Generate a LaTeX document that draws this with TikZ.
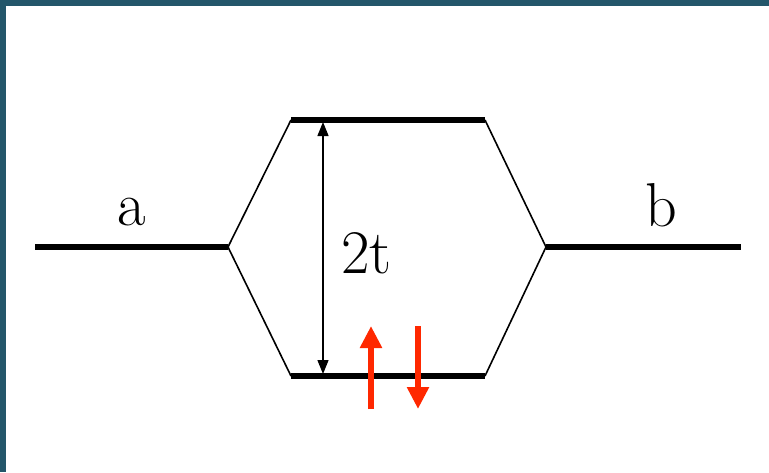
\documentclass[tikz,border=0pt]{standalone}
\usetikzlibrary{arrows.meta}
\definecolor{frame}{RGB}{35,86,106}
\definecolor{spin}{RGB}{255,40,0}
\tikzset{
  level/.style={line width=5.5pt},
  link/.style={line width=1.6pt},
  lbl/.style={font=\fontsize{62}{62}\selectfont, anchor=base, inner sep=0pt},
  gap/.style={line width=1.4pt, {Triangle[length=14pt,width=11pt]}-{Triangle[length=14pt,width=11pt]}},
  spinarrow/.style={line width=5.5pt, spin, -{Triangle[length=22pt,width=21pt]}}
}
\begin{document}
\begin{tikzpicture}[x=1pt,y=-1pt]
\useasboundingbox (0,0) rectangle (769,472);
\fill[frame] (0,0) rectangle (769,472);
\fill[white] (6,6) rectangle (769,472);
% levels
\coordinate (al) at (35,247); \coordinate (ar) at (228,247);
\coordinate (tl) at (291,120); \coordinate (tr) at (485,120);
\coordinate (bl) at (291,376); \coordinate (br) at (485,376);
\coordinate (bbl) at (546,247); \coordinate (bbr) at (741,247);
\draw[level] (al) -- (ar);
\draw[level] (tl) -- (tr);
\draw[level] (bl) -- (br);
\draw[level] (bbl) -- (bbr);
\draw[link] (ar) -- (tl);
\draw[link] (ar) -- (bl);
\draw[link] (tr) -- (bbl);
\draw[link] (br) -- (bbl);
% gap arrow
\coordinate (gt) at (323,122); \coordinate (gb) at (323,374);
\draw[gap] (gt) -- (gb);
\node[lbl] (la) at (132,225) {a};
\node[lbl] (lb) at (661,226) {b};
\node[lbl, anchor=base west] (lt) at (341,273) {2t};
% spins
\coordinate (u0) at (371,409); \coordinate (u1) at (371,326);
\coordinate (d0) at (418,326); \coordinate (d1) at (418,409);
\draw[spinarrow] (u0) -- (u1);
\draw[spinarrow] (d0) -- (d1);
\end{tikzpicture}
\end{document}
